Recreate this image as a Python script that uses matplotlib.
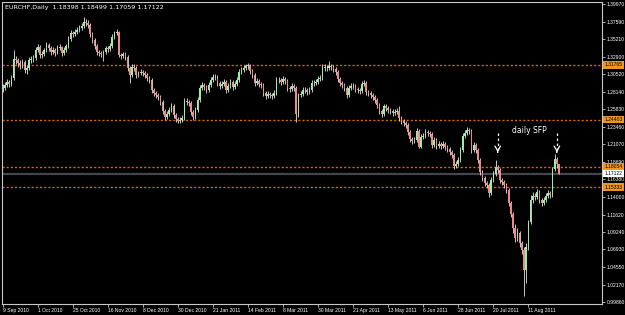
import matplotlib.pyplot as plt
import matplotlib.transforms as mtransforms
import numpy as np

# EURCHF daily bars, 9 Sep 2010 .. end Aug 2011
closes = [
    1.2866, 1.2907, 1.2947, 1.2920, 1.3001, 1.3257, 1.3243, 1.3203, 1.3176, 1.3216,
    1.3109, 1.3136, 1.3243, 1.3257, 1.3270, 1.3378, 1.3418, 1.3311, 1.3324, 1.3378,
    1.3445, 1.3405, 1.3351, 1.3378, 1.3338, 1.3405, 1.3418, 1.3338, 1.3378, 1.3432,
    1.3526, 1.3607, 1.3593, 1.3620, 1.3647, 1.3674, 1.3701, 1.3755, 1.3741, 1.3714,
    1.3593, 1.3512, 1.3432, 1.3351, 1.3338, 1.3324, 1.3351, 1.3405, 1.3391, 1.3432,
    1.3553, 1.3607, 1.3620, 1.3311, 1.3297, 1.3324, 1.3284, 1.3136, 1.3041, 1.3149,
    1.3136, 1.3041, 1.3068, 1.3082, 1.3068, 1.3041, 1.3001, 1.2974, 1.2840, 1.2799,
    1.2772, 1.2745, 1.2678, 1.2557, 1.2476, 1.2516, 1.2570, 1.2624, 1.2503, 1.2449,
    1.2422, 1.2436, 1.2463, 1.2692, 1.2678, 1.2665, 1.2543, 1.2476, 1.2570, 1.2705,
    1.2866, 1.2907, 1.2880, 1.2840, 1.2907, 1.2974, 1.3015, 1.3015, 1.2934, 1.2893,
    1.2920, 1.2947, 1.2840, 1.2893, 1.2947, 1.2880, 1.2920, 1.2974, 1.3082, 1.3109,
    1.3136, 1.3163, 1.3176, 1.3095, 1.3041, 1.2934, 1.2961, 1.2920, 1.2907, 1.2799,
    1.2759, 1.2786, 1.2772, 1.2759, 1.2799, 1.2974, 1.2974, 1.2947, 1.2988, 1.2961,
    1.2866, 1.2853, 1.2893, 1.2866, 1.2516, 1.2772, 1.2786, 1.2840, 1.2840, 1.2813,
    1.2840, 1.2934, 1.2934, 1.2947, 1.2988, 1.3001, 1.3149, 1.3136, 1.3136, 1.3163,
    1.3149, 1.3122, 1.3082, 1.2988, 1.2934, 1.2907, 1.2866, 1.2772, 1.2866, 1.2893,
    1.2893, 1.2853, 1.2840, 1.2826, 1.2920, 1.2934, 1.2813, 1.2799, 1.2772, 1.2745,
    1.2705, 1.2638, 1.2557, 1.2516, 1.2624, 1.2597, 1.2570, 1.2557, 1.2530, 1.2543,
    1.2557, 1.2463, 1.2422, 1.2395, 1.2368, 1.2274, 1.2180, 1.2153, 1.2167, 1.2288,
    1.2073, 1.2207, 1.2220, 1.2274, 1.2261, 1.2247, 1.2099, 1.2167, 1.2086, 1.2113,
    1.2086, 1.2113, 1.2073, 1.2046, 1.2005, 1.1965, 1.1817, 1.1843, 1.1897, 1.2032,
    1.2220, 1.2261, 1.2301, 1.2288, 1.2032, 1.2099, 1.2032, 1.1897, 1.1736, 1.1655,
    1.1588, 1.1561, 1.1453, 1.1628, 1.1709, 1.1803, 1.1763, 1.1628, 1.1601, 1.1561,
    1.1494, 1.1318, 1.1171, 1.0982, 1.0847, 1.0915, 1.0780, 1.0686, 1.0417, 1.0726,
    1.1063, 1.1359, 1.1413, 1.1399, 1.1467, 1.1359, 1.1318, 1.1359, 1.1413, 1.1453,
    1.1426, 1.1776, 1.1911, 1.18398, 1.17122,
]
highs = [
    1.2920, 1.2947, 1.2988, 1.2974, 1.3041, 1.3378, 1.3297, 1.3270, 1.3243, 1.3257,
    1.3243, 1.3176, 1.3284, 1.3297, 1.3311, 1.3418, 1.3459, 1.3445, 1.3364, 1.3405,
    1.3485, 1.3472, 1.3432, 1.3418, 1.3405, 1.3445, 1.3459, 1.3432, 1.3418, 1.3459,
    1.3566, 1.3647, 1.3634, 1.3661, 1.3687, 1.3714, 1.3741, 1.3822, 1.3795, 1.3782,
    1.3741, 1.3620, 1.3539, 1.3459, 1.3378, 1.3364, 1.3378, 1.3432, 1.3432, 1.3472,
    1.3593, 1.3634, 1.3661, 1.3634, 1.3338, 1.3351, 1.3351, 1.3311, 1.3163, 1.3189,
    1.3189, 1.3163, 1.3095, 1.3122, 1.3109, 1.3095, 1.3068, 1.3028, 1.3001, 1.2866,
    1.2826, 1.2799, 1.2772, 1.2705, 1.2584, 1.2557, 1.2611, 1.2665, 1.2651, 1.2530,
    1.2476, 1.2476, 1.2503, 1.2732, 1.2732, 1.2705, 1.2692, 1.2570, 1.2611, 1.2745,
    1.2907, 1.2947, 1.2934, 1.2907, 1.2947, 1.3015, 1.3055, 1.3055, 1.3041, 1.2961,
    1.2961, 1.2988, 1.2974, 1.2934, 1.2988, 1.2974, 1.2961, 1.3015, 1.3122, 1.3149,
    1.3176, 1.3189, 1.3203, 1.3189, 1.3122, 1.3068, 1.3001, 1.2988, 1.2947, 1.2934,
    1.2826, 1.2826, 1.2813, 1.2799, 1.2840, 1.3015, 1.3015, 1.3001, 1.3028, 1.3015,
    1.2988, 1.2893, 1.2934, 1.2920, 1.2893, 1.2799, 1.2826, 1.2880, 1.2880, 1.2866,
    1.2880, 1.2974, 1.2974, 1.2988, 1.3028, 1.3041, 1.3189, 1.3189, 1.3176, 1.3230,
    1.3189, 1.3176, 1.3149, 1.3109, 1.3015, 1.2961, 1.2934, 1.2893, 1.2907, 1.2934,
    1.2934, 1.2920, 1.2880, 1.2866, 1.2961, 1.2974, 1.2961, 1.2840, 1.2826, 1.2799,
    1.2772, 1.2732, 1.2665, 1.2584, 1.2651, 1.2651, 1.2624, 1.2597, 1.2584, 1.2584,
    1.2597, 1.2624, 1.2490, 1.2449, 1.2422, 1.2395, 1.2301, 1.2207, 1.2207, 1.2328,
    1.2315, 1.2247, 1.2261, 1.2315, 1.2301, 1.2288, 1.2274, 1.2207, 1.2193, 1.2153,
    1.2140, 1.2153, 1.2140, 1.2099, 1.2073, 1.2032, 1.1992, 1.1884, 1.1938, 1.2073,
    1.2261, 1.2301, 1.2346, 1.2328, 1.2315, 1.2140, 1.2126, 1.2059, 1.1924, 1.1763,
    1.1682, 1.1615, 1.1588, 1.1668, 1.1749, 1.1897, 1.1830, 1.1790, 1.1655, 1.1628,
    1.1588, 1.1520, 1.1345, 1.1197, 1.1036, 1.0982, 1.0942, 1.0807, 1.0726, 1.0780,
    1.1090, 1.1426, 1.1467, 1.1453, 1.1507, 1.1494, 1.1386, 1.1399, 1.1453, 1.1494,
    1.1480, 1.1803, 1.1978, 1.1938, 1.18499,
]
lows = [
    1.2813, 1.2840, 1.2880, 1.2880, 1.2893, 1.2974, 1.3189, 1.3149, 1.3122, 1.3136,
    1.3068, 1.3055, 1.3109, 1.3203, 1.3216, 1.3243, 1.3351, 1.3270, 1.3270, 1.3297,
    1.3351, 1.3364, 1.3311, 1.3324, 1.3297, 1.3324, 1.3378, 1.3297, 1.3311, 1.3351,
    1.3405, 1.3499, 1.3553, 1.3566, 1.3593, 1.3620, 1.3647, 1.3674, 1.3701, 1.3674,
    1.3553, 1.3472, 1.3391, 1.3311, 1.3297, 1.3284, 1.3230, 1.3324, 1.3351, 1.3364,
    1.3405, 1.3526, 1.3580, 1.3284, 1.3257, 1.3270, 1.3243, 1.3095, 1.2934, 1.3015,
    1.3095, 1.3001, 1.3015, 1.3041, 1.3028, 1.3001, 1.2961, 1.2934, 1.2799, 1.2759,
    1.2732, 1.2705, 1.2638, 1.2516, 1.2436, 1.2449, 1.2490, 1.2543, 1.2463, 1.2409,
    1.2395, 1.2395, 1.2409, 1.2436, 1.2638, 1.2624, 1.2503, 1.2436, 1.2449, 1.2543,
    1.2678, 1.2840, 1.2840, 1.2799, 1.2813, 1.2880, 1.2947, 1.2974, 1.2893, 1.2853,
    1.2866, 1.2893, 1.2799, 1.2813, 1.2866, 1.2840, 1.2853, 1.2893, 1.2947, 1.3055,
    1.3082, 1.3109, 1.3122, 1.3055, 1.3001, 1.2893, 1.2907, 1.2880, 1.2866, 1.2759,
    1.2718, 1.2732, 1.2732, 1.2718, 1.2732, 1.2772, 1.2934, 1.2907, 1.2920, 1.2920,
    1.2826, 1.2813, 1.2826, 1.2826, 1.2409, 1.2476, 1.2745, 1.2759, 1.2799, 1.2772,
    1.2786, 1.2813, 1.2893, 1.2907, 1.2920, 1.2961, 1.2974, 1.3095, 1.3095, 1.3109,
    1.3109, 1.3082, 1.3041, 1.2947, 1.2893, 1.2866, 1.2826, 1.2732, 1.2745, 1.2840,
    1.2853, 1.2813, 1.2799, 1.2786, 1.2799, 1.2893, 1.2772, 1.2759, 1.2732, 1.2705,
    1.2665, 1.2597, 1.2516, 1.2476, 1.2490, 1.2557, 1.2530, 1.2516, 1.2490, 1.2503,
    1.2516, 1.2422, 1.2382, 1.2355, 1.2328, 1.2234, 1.2140, 1.2113, 1.2126, 1.2140,
    1.2059, 1.2059, 1.2180, 1.2193, 1.2220, 1.2207, 1.2059, 1.2073, 1.2046, 1.2059,
    1.2046, 1.2059, 1.2032, 1.2005, 1.1965, 1.1924, 1.1776, 1.1790, 1.1817, 1.1870,
    1.2005, 1.2193, 1.2234, 1.2247, 1.1992, 1.2005, 1.1992, 1.1857, 1.1695, 1.1615,
    1.1547, 1.1520, 1.1399, 1.1426, 1.1601, 1.1682, 1.1722, 1.1588, 1.1561, 1.1520,
    1.1453, 1.1278, 1.1130, 1.0915, 1.0794, 1.0807, 1.0726, 1.0632, 1.0067, 1.0242,
    1.0686, 1.1036, 1.1318, 1.1359, 1.1372, 1.1318, 1.1278, 1.1291, 1.1332, 1.1386,
    1.1386, 1.1399, 1.1749, 1.1790, 1.17059,
]
first_open = 1.2840
opens = [first_open] + closes[:-1]

date_labels = ["9 Sep 2010", "1 Oct 2010", "25 Oct 2010", "16 Nov 2010", "8 Dec 2010",
               "30 Dec 2010", "21 Jan 2011", "14 Feb 2011", "8 Mar 2011", "30 Mar 2011",
               "21 Apr 2011", "13 May 2011", "6 Jun 2011", "28 Jun 2011", "20 Jul 2011",
               "11 Aug 2011"]
bars_per_label = 16

price_ticks = [1.39970, 1.37590, 1.35210, 1.32900, 1.30520, 1.28140, 1.25830, 1.23460,
               1.21070, 1.18690, 1.16380, 1.14000, 1.11620, 1.09240, 1.06930, 1.04550,
               1.02170, 0.99860]
levels = [1.31765, 1.24403, 1.18054, 1.15333]
last_price = 1.17122
sfp_bars = [226, 253]

small = ["Liberation Sans", "DejaVu Sans"]
fsz = 3.6

fig = plt.figure(figsize=(6.25, 3.15), dpi=100, facecolor="black")
ax = fig.add_axes([2 / 625, 11 / 315, 600 / 625, 302 / 315])
ax.set_facecolor("black")

x = np.arange(len(closes))
o = np.array(opens)
c = np.array(closes)
up = c >= o

# wicks
ax.vlines(x, lows, highs, color="#e6e6e6", lw=0.6, zorder=3)
# bodies
body_lo = np.minimum(o, c)
body_h = np.maximum(np.abs(c - o), 0.0006)
ax.bar(x[up], body_h[up], bottom=body_lo[up], width=0.75, color="#98f0a0", zorder=4)
ax.bar(x[~up], body_h[~up], bottom=body_lo[~up], width=0.75, color="#f08a8a", zorder=4)

# horizontal levels
for lv in levels:
    ax.axhline(lv, color="#d86a00", lw=1, linestyle=(0, (1.5, 1.5)), zorder=1)
ax.axhline(last_price, color="#44484e", lw=1.6, zorder=1)

ax.set_xlim(-0.3, 273.6)
ax.set_ylim(0.9959, 1.4024)

# right price scale
ax.yaxis.tick_right()
ax.set_yticks(price_ticks)
ax.set_yticklabels(["%.5f" % p for p in price_ticks], family=small)
ax.tick_params(axis="y", colors="#c8c8c8", labelcolor="white", labelsize=fsz,
               length=2, width=0.6, pad=1.5)

ax.set_xticks(np.arange(len(date_labels)) * bars_per_label)
ax.set_xticklabels(date_labels, family=small)
ax.tick_params(axis="x", colors="#c8c8c8", labelcolor="white", labelsize=fsz,
               length=2, width=0.6, pad=1)
for lbl in ax.get_xticklabels():
    lbl.set_ha("left")

for sp in ax.spines.values():
    sp.set_color("#c8c8c8")
    sp.set_linewidth(0.8)

# boxed labels on price scale
trans = mtransforms.blended_transform_factory(ax.transAxes, ax.transData)
for lv in levels:
    ax.text(1.004, lv, "%.5f" % lv, transform=trans, fontsize=fsz, family=small,
            color="black", va="center", ha="left", clip_on=False, zorder=6,
            bbox=dict(boxstyle="square,pad=0.25", fc="#f0961e", ec="none"))
ax.text(1.004, last_price, "%.5f" % last_price, transform=trans, fontsize=fsz,
        family=small, color="black", va="center", ha="left", clip_on=False, zorder=6,
        bbox=dict(boxstyle="square,pad=0.25", fc="white", ec="none"))

# SFP arrows and note
for b in sfp_bars:
    ax.plot([b, b], [1.2261, 1.2030], color="white", lw=0.9, linestyle=(0, (2, 2)), zorder=5)
    ax.annotate("", xy=(b, 1.1965), xytext=(b, 1.2040),
                arrowprops=dict(arrowstyle="->,head_length=0.35,head_width=0.2",
                                color="white", lw=0.9))
ax.text(240.5, 1.2290, "daily SFP", color="white", fontsize=5.5, ha="center", va="center")

fig.text(5 / 625, 1 - 7 / 315, "EURCHF,Daily  1.18398 1.18499 1.17059 1.17122",
         color="white", fontsize=4.6, va="center", ha="left")

fig.savefig("out.png", dpi=100, facecolor="black")
